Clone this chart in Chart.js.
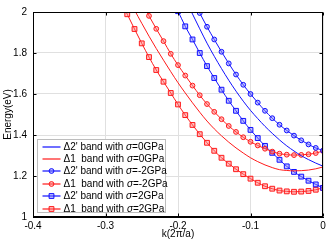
<!DOCTYPE html>
<html>
<head>
<meta charset="utf-8">
<script src="https://cdn.jsdelivr.net/npm/chart.js@4/dist/chart.umd.min.js"></script>
<style>
  html, body { margin: 0; padding: 0; background: #fff; }
  #wrap { width: 330px; height: 242px; }
</style>
</head>
<body>
<div id="wrap"><canvas id="myChart" width="330" height="242"></canvas></div>
<script>
// k grid shared by every band (units of 2pi/a)
const kGrid = [-0.28, -0.27, -0.26, -0.25, -0.24, -0.23, -0.22, -0.21, -0.20, -0.19,
               -0.18, -0.17, -0.16, -0.15, -0.14, -0.13, -0.12, -0.11, -0.10, -0.09,
               -0.08, -0.07, -0.06, -0.05, -0.04, -0.03, -0.02, -0.01, 0];

// energies (eV), null = outside the plot
const d2Sigma0  = [null, null, null, null, null, null, null, null, null, 2.06,
                   1.99, 1.918, 1.848, 1.784, 1.724, 1.667, 1.614, 1.565, 1.520, 1.480,
                   1.442, 1.408, 1.376, 1.347, 1.322, 1.299, 1.280, 1.263, 1.248];
const d1Sigma0  = [null, 2.08, 2.01, 1.945, 1.882, 1.822, 1.765, 1.709, 1.655, 1.605,
                   1.557, 1.511, 1.468, 1.430, 1.396, 1.365, 1.337, 1.312, 1.289, 1.270,
                   1.254, 1.241, 1.231, 1.227, 1.225, 1.226, 1.229, 1.235, 1.244];
const d2SigmaM2 = [null, null, null, null, null, null, null, null, null, null,
                   2.065, 1.995, 1.928, 1.866, 1.806, 1.749, 1.695, 1.645, 1.600, 1.558,
                   1.518, 1.482, 1.450, 1.422, 1.397, 1.374, 1.354, 1.337, 1.324];
const d1SigmaM2 = [null, null, null, 2.045, 1.981, 1.918, 1.858, 1.796, 1.741, 1.690,
                   1.641, 1.594, 1.551, 1.513, 1.477, 1.444, 1.415, 1.389, 1.367, 1.349,
                   1.333, 1.319, 1.309, 1.304, 1.302, 1.303, 1.306, 1.312, 1.322];
const d2SigmaP2 = [null, null, null, null, null, null, null, 2.07, 2.004, 1.930,
                   1.866, 1.800, 1.736, 1.678, 1.621, 1.567, 1.518, 1.469, 1.425, 1.385,
                   1.347, 1.313, 1.279, 1.247, 1.220, 1.197, 1.177, 1.159, 1.142];
const d1SigmaP2 = [2.06, 1.989, 1.917, 1.847, 1.780, 1.717, 1.660, 1.605, 1.549, 1.497,
                   1.449, 1.404, 1.362, 1.323, 1.289, 1.260, 1.233, 1.209, 1.187, 1.167,
                   1.150, 1.138, 1.129, 1.125, 1.123, 1.124, 1.127, 1.133, 1.142];

const seriesLabels = ["\u03942' band with \u03c3=0GPa", "\u03941  band with \u03c3=0GPa",
                      "\u03942' band with \u03c3=-2GPa", "\u03941  band with \u03c3=-2GPa",
                      "\u03942' band with \u03c3=2GPa", "\u03941  band with \u03c3=2GPa"];
const xTicks = [-0.4, -0.3, -0.2, -0.1, 0];
const yTicks = [1, 1.2, 1.4, 1.6, 1.8, 2];

const BLUE = '#1010ff';
const RED = '#ff1a1a';
const FONT = "'Liberation Sans', Arial, sans-serif";

// turn the k grid + energies into {x, y} points
function pts(vals) {
    let out = [];
    vals.forEach((v, i) => { if (v !== null) out.push({ x: kGrid[i], y: v }) });
    return out;
}

function band(label, vals, color, marker) {
    return {
        label: label,
        data: pts(vals),
        borderColor: color,
        borderWidth: 1,
        backgroundColor: color,
        pointStyle: marker || 'circle',
        pointRadius: marker ? (marker === 'rect' ? 3.4 : 2.4) : 0,
        pointBorderWidth: 1,
        pointBorderColor: color,
        pointBackgroundColor: color === BLUE ? 'rgba(120,120,255,0.45)' : 'rgba(255,120,120,0.45)',
        cubicInterpolationMode: 'monotone',
        fill: false,
        _marker: marker
    };
}

// box, inward ticks and legend drawn like the original figure
const framePlugin = {
    id: 'frame',
    afterDraw(chart) {
        const { ctx, chartArea: a, scales } = chart;
        ctx.save();
        ctx.strokeStyle = '#000';
        ctx.lineWidth = 1;
        const L = Math.round(a.left) + 0.5, R = Math.round(a.right) - 0.5;
        const T = Math.round(a.top) + 0.5, B = Math.round(a.bottom) - 0.5;
        ctx.strokeRect(L, T, R - L, B - T);
        ctx.beginPath();
        for (const v of xTicks) {
            const px = Math.round(scales.x.getPixelForValue(v)) + 0.5;
            ctx.moveTo(px, B); ctx.lineTo(px, B - 3);
            ctx.moveTo(px, T); ctx.lineTo(px, T + 3);
        }
        for (const v of yTicks) {
            const py = Math.round(scales.y.getPixelForValue(v)) + 0.5;
            ctx.moveTo(L, py); ctx.lineTo(L + 3, py);
            ctx.moveTo(R, py); ctx.lineTo(R - 3, py);
        }
        ctx.stroke();

        // legend
        const bx = L + 4, by = B - 77, bw = 128, bh = 73;
        ctx.fillStyle = '#fff';
        ctx.fillRect(bx, by, bw, bh);
        ctx.strokeStyle = '#bdbdbd';
        ctx.strokeRect(bx, by, bw, bh);
        chart.data.datasets.forEach((ds, row) => {
            const yy = Math.round(by + 7 + row * 12.4);
            const color = ds.borderColor;
            ctx.strokeStyle = color;
            ctx.lineWidth = 1.2;
            ctx.beginPath();
            ctx.moveTo(bx + 5, yy); ctx.lineTo(bx + 23, yy);
            ctx.stroke();
            if (ds._marker) {
                ctx.lineWidth = 1;
                ctx.strokeStyle = color;
                ctx.fillStyle = ds.pointBackgroundColor;
                Chart.helpers.drawPoint(ctx, {
                    pointStyle: ds._marker, radius: ds.pointRadius, borderWidth: 1, rotation: 0
                }, bx + 14, yy);
            }
            // text with italic sigma
            const parts = ds.label.split('\u03c3');
            ctx.fillStyle = '#000';
            ctx.textBaseline = 'middle';
            ctx.textAlign = 'left';
            let tx = bx + 26;
            ctx.font = '10px ' + FONT;
            ctx.fillText(parts[0], tx, yy);
            tx += ctx.measureText(parts[0]).width;
            ctx.font = 'italic 10px ' + FONT;
            ctx.fillText('\u03c3', tx, yy);
            tx += ctx.measureText('\u03c3').width;
            ctx.font = '10px ' + FONT;
            ctx.fillText(parts[1], tx, yy);
        });
        ctx.restore();
    }
};

let myChart = document.querySelector('#myChart').getContext('2d');
let bandChart = new Chart(myChart, {
    type: 'line',
    data: {
        datasets: [
            band(seriesLabels[0], d2Sigma0, BLUE),
            band(seriesLabels[1], d1Sigma0, RED),
            band(seriesLabels[2], d2SigmaM2, BLUE, 'circle'),
            band(seriesLabels[3], d1SigmaM2, RED, 'circle'),
            band(seriesLabels[4], d2SigmaP2, BLUE, 'rect'),
            band(seriesLabels[5], d1SigmaP2, RED, 'rect')
        ]
    },
    options: {
        responsive: false,
        animation: false,
        layout: { padding: { top: 6, right: 7, left: 0, bottom: 0 } },
        plugins: { legend: { display: false }, tooltip: { enabled: false } },
        scales: {
            x: {
                type: 'linear',
                min: -0.4, max: 0,
                afterBuildTicks: (s) => { s.ticks = xTicks.map(v => ({ value: v })) },
                afterFit: (s) => { s.height = 25 },
                ticks: {
                    color: '#000', padding: 3, maxRotation: 0,
                    font: { family: FONT, size: 10 },
                    callback: (v) => String(Math.round(v * 10) / 10)
                },
                grid: { color: '#e0e0e0', drawTicks: false },
                border: { display: true, color: '#000' },
                title: {
                    display: true, text: 'k(2\u03c0/a)', color: '#000',
                    font: { family: FONT, size: 10 }, padding: { top: 0, bottom: 2 }
                }
            },
            y: {
                min: 1, max: 2,
                afterBuildTicks: (s) => { s.ticks = yTicks.map(v => ({ value: v })) },
                afterFit: (s) => { s.width = 33 },
                ticks: {
                    color: '#000', padding: 6,
                    font: { family: FONT, size: 10 },
                    callback: (v) => String(Math.round(v * 10) / 10)
                },
                grid: { color: '#e0e0e0', drawTicks: false },
                border: { display: true, color: '#000' },
                title: {
                    display: true, text: 'Energy(eV)', color: '#000',
                    font: { family: FONT, size: 10 }, padding: { top: 2, bottom: 0 }
                }
            }
        }
    },
    plugins: [framePlugin]
});
</script>
</body>
</html>
